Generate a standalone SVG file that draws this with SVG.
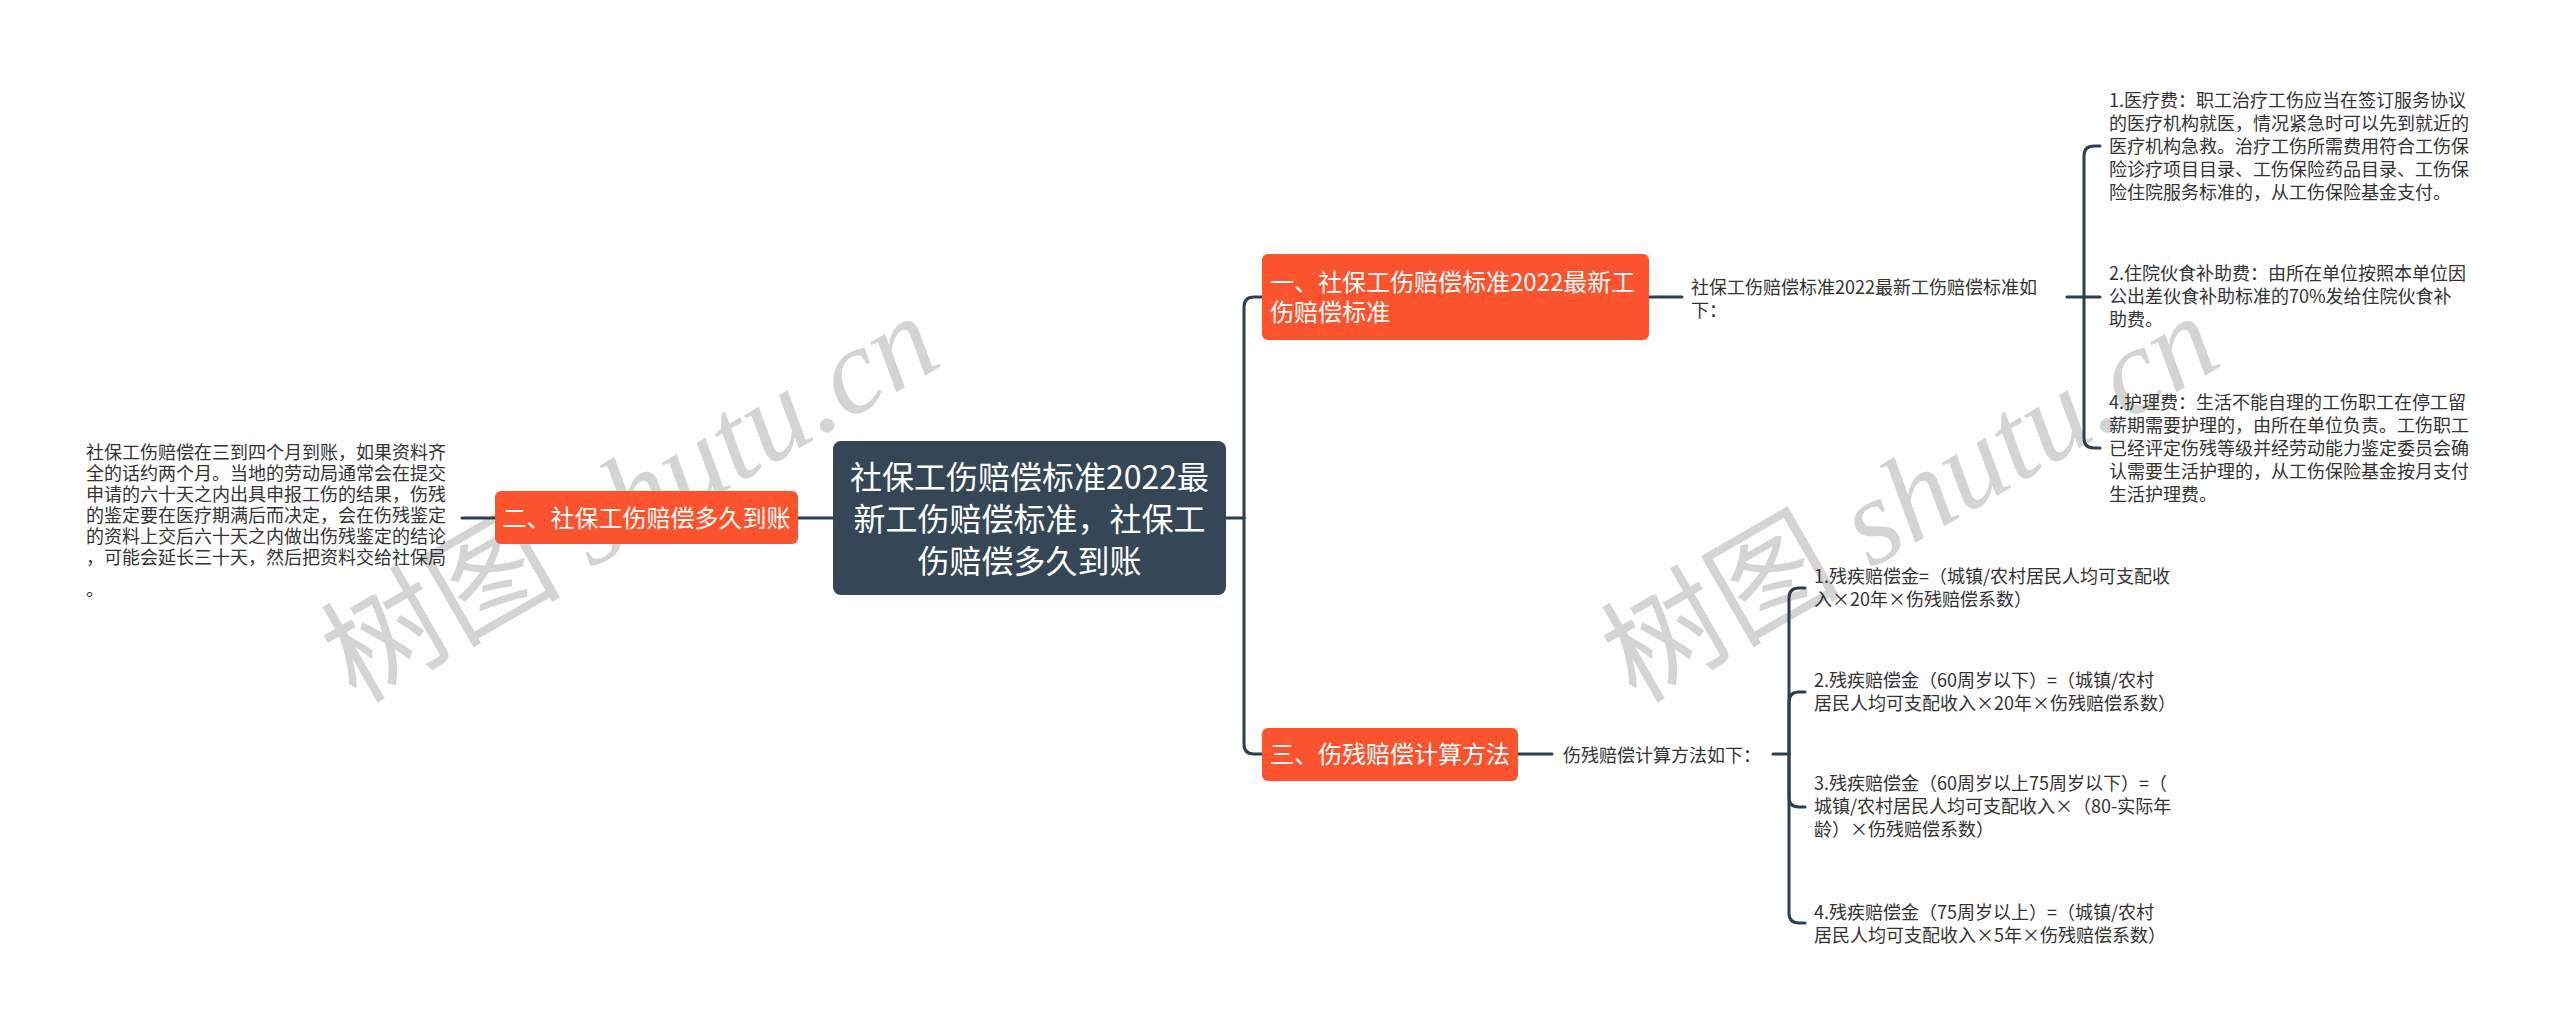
<svg xmlns="http://www.w3.org/2000/svg" width="2560" height="1033" viewBox="0 0 2560 1033">
<style>
.bg{fill:#ffffff}
.wm{fill:#d4d4d4}
.wmc{font-family:"Noto Sans CJK SC","Noto Sans CJK JP",sans-serif;font-size:120px}
.wml{font-family:"Liberation Serif",serif;font-style:italic;font-size:122px}
.root{fill:#354656}
.main{fill:#fa532e}
.rt{fill:#ffffff;font-family:"Noto Sans CJK SC","Noto Sans CJK JP",sans-serif;font-size:32px}
.mt{fill:#ffffff;font-family:"Noto Sans CJK SC","Noto Sans CJK JP",sans-serif;font-size:24px}
.st{fill:#333333;font-family:"Noto Sans CJK SC","Noto Sans CJK JP",sans-serif;font-size:18px}
.ln{fill:none;stroke:#2c3e50;stroke-width:3;stroke-linecap:round}
</style>
<rect class="bg" x="0" y="0" width="2560" height="1033"/>
<g id="watermarks" class="wm">
<text x="356" y="704" transform="rotate(-30 356 704)"><tspan class="wmc">树图</tspan><tspan class="wml"> shutu.cn</tspan></text>
<text x="1636" y="704" transform="rotate(-30 1636 704)"><tspan class="wmc">树图</tspan><tspan class="wml"> shutu.cn</tspan></text>
</g>
<g id="connectors">
<path class="ln" d="M462,518 H495"/>
<path class="ln" d="M798,518 H833"/>
<path class="ln" d="M1226,518 H1244"/>
<path class="ln" d="M1244,518 V307 Q1244,297 1254,297 H1262"/>
<path class="ln" d="M1244,518 V744 Q1244,754 1254,754 H1262"/>
<path class="ln" d="M1649,297 H1682"/>
<path class="ln" d="M2067,297 H2084"/>
<path class="ln" d="M2084,297 V156 Q2084,146 2094,146 H2100"/>
<path class="ln" d="M2084,297 H2100"/>
<path class="ln" d="M2084,297 V438 Q2084,448 2094,448 H2100"/>
<path class="ln" d="M1518,754 H1552"/>
<path class="ln" d="M1773,754 H1789"/>
<path class="ln" d="M1789,754 V598 Q1789,588 1799,588 H1805"/>
<path class="ln" d="M1789,754 V702 Q1789,692 1799,692 H1805"/>
<path class="ln" d="M1789,754 V797 Q1789,807 1799,807 H1805"/>
<path class="ln" d="M1789,754 V913 Q1789,923 1799,923 H1805"/>
</g>
<g id="root">
<rect class="root" x="833" y="441" width="393" height="154" rx="8"/>
<text class="rt" text-anchor="middle"><tspan x="1029.5" y="489">社保工伤赔偿标准2022最</tspan><tspan x="1029.5" y="531">新工伤赔偿标准，社保工</tspan><tspan x="1029.5" y="573">伤赔偿多久到账</tspan></text>
</g>
<g id="n1">
<rect class="main" x="1262" y="254" width="387" height="86" rx="6"/>
<text class="mt"><tspan x="1270" y="291">一、社保工伤赔偿标准2022最新工</tspan><tspan x="1270" y="321">伤赔偿标准</tspan></text>
</g>
<g id="n2">
<rect class="main" x="495" y="491" width="303" height="53" rx="6"/>
<text class="mt" x="646.5" y="527" text-anchor="middle">二、社保工伤赔偿多久到账</text>
</g>
<g id="n3">
<rect class="main" x="1262" y="728" width="256" height="53" rx="6"/>
<text class="mt" x="1390" y="763" text-anchor="middle">三、伤残赔偿计算方法</text>
</g>
<g id="n2c">
<text class="st"><tspan x="86" y="459">社保工伤赔偿在三到四个月到账，如果资料齐</tspan><tspan x="86" y="480">全的话约两个月。当地的劳动局通常会在提交</tspan><tspan x="86" y="501">申请的六十天之内出具申报工伤的结果，伤残</tspan><tspan x="86" y="522">的鉴定要在医疗期满后而决定，会在伤残鉴定</tspan><tspan x="86" y="543">的资料上交后六十天之内做出伤残鉴定的结论</tspan><tspan x="86" y="564">，可能会延长三十天，然后把资料交给社保局</tspan><tspan x="86" y="596">。</tspan></text>
</g>
<g id="n1c">
<text class="st"><tspan x="1691" y="294">社保工伤赔偿标准2022最新工伤赔偿标准如</tspan><tspan x="1691" y="317">下：</tspan></text>
</g>
<g id="n1c1">
<text class="st"><tspan x="2109" y="107">1.医疗费：职工治疗工伤应当在签订服务协议</tspan><tspan x="2109" y="130">的医疗机构就医，情况紧急时可以先到就近的</tspan><tspan x="2109" y="153">医疗机构急救。治疗工伤所需费用符合工伤保</tspan><tspan x="2109" y="176">险诊疗项目目录、工伤保险药品目录、工伤保</tspan><tspan x="2109" y="199">险住院服务标准的，从工伤保险基金支付。</tspan></text>
</g>
<g id="n1c2">
<text class="st"><tspan x="2109" y="280">2.住院伙食补助费：由所在单位按照本单位因</tspan><tspan x="2109" y="303">公出差伙食补助标准的70%发给住院伙食补</tspan><tspan x="2109" y="326">助费。</tspan></text>
</g>
<g id="n1c3">
<text class="st"><tspan x="2109" y="409">4.护理费：生活不能自理的工伤职工在停工留</tspan><tspan x="2109" y="432">薪期需要护理的，由所在单位负责。工伤职工</tspan><tspan x="2109" y="455">已经评定伤残等级并经劳动能力鉴定委员会确</tspan><tspan x="2109" y="478">认需要生活护理的，从工伤保险基金按月支付</tspan><tspan x="2109" y="501">生活护理费。</tspan></text>
</g>
<g id="n3c">
<text class="st" x="1563" y="762">伤残赔偿计算方法如下：</text>
</g>
<g id="n3c1">
<text class="st"><tspan x="1814" y="583">1.残疾赔偿金=（城镇/农村居民人均可支配收</tspan><tspan x="1814" y="606">入×20年×伤残赔偿系数）</tspan></text>
</g>
<g id="n3c2">
<text class="st"><tspan x="1814" y="687">2.残疾赔偿金（60周岁以下）=（城镇/农村</tspan><tspan x="1814" y="710">居民人均可支配收入×20年×伤残赔偿系数）</tspan></text>
</g>
<g id="n3c3">
<text class="st"><tspan x="1814" y="790">3.残疾赔偿金（60周岁以上75周岁以下）=（</tspan><tspan x="1814" y="813">城镇/农村居民人均可支配收入×（80-实际年</tspan><tspan x="1814" y="836">龄）×伤残赔偿系数）</tspan></text>
</g>
<g id="n3c4">
<text class="st"><tspan x="1814" y="919">4.残疾赔偿金（75周岁以上）=（城镇/农村</tspan><tspan x="1814" y="942">居民人均可支配收入×5年×伤残赔偿系数）</tspan></text>
</g>
</svg>
